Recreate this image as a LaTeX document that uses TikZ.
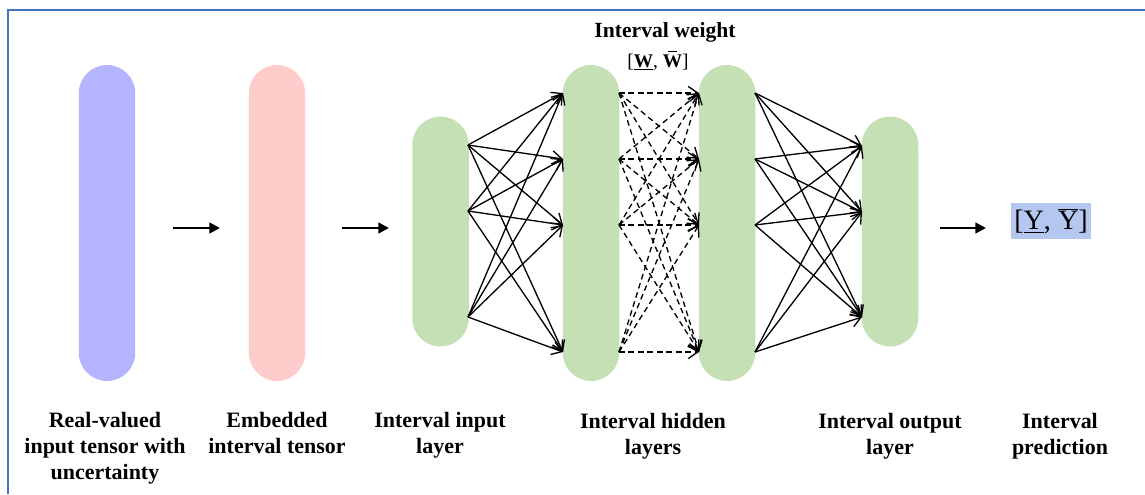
\documentclass[tikz,border=0pt]{standalone}
\usepackage{fontspec}
\setmainfont{Liberation Serif}
\usetikzlibrary{arrows.meta}
\definecolor{pblue}{RGB}{181,181,255}
\definecolor{ppink}{RGB}{255,204,204}
\definecolor{pgreen}{RGB}{197,224,180}
\definecolor{boxblue}{RGB}{180,199,240}
\definecolor{frameblue}{RGB}{68,114,196}
\begin{document}
\begin{tikzpicture}[x=0.02cm,y=-0.02cm,
  pill/.style={draw=none,rectangle,rounded corners=0.565cm,minimum width=1.13cm,inner sep=0pt},
  conn/.style={line width=0.75pt,-{Straight Barb[length=5.5pt,width=7.5pt]}},
  dconn/.style={conn,dash pattern=on 3.2pt off 2.2pt},
  bigarrow/.style={line width=1.3pt,-{Triangle[length=6pt,width=6pt]}},
  lab/.style={font=\bfseries\fontsize{12.5}{14.8}\selectfont,align=center,anchor=north,inner sep=0pt}]
\useasboundingbox (0,0) rectangle (1145,494);
\draw[frameblue,line width=1.2pt] (8,494) -- (8,10) -- (1145,10);

% pills
\node[pill,fill=pblue,minimum height=6.32cm] (p1) at (107,223) {};
\node[pill,fill=ppink,minimum height=6.32cm] (p2) at (277,223) {};
\node[pill,fill=pgreen,minimum height=4.6cm] (pin) at (440.5,231.5) {};
\node[pill,fill=pgreen,minimum height=6.32cm] (ph1) at (591,223) {};
\node[pill,fill=pgreen,minimum height=6.32cm] (ph2) at (727,223) {};
\node[pill,fill=pgreen,minimum height=4.6cm] (pout) at (890,231.5) {};

% neuron points
\coordinate (i1) at (468,145); \coordinate (i2) at (468,211); \coordinate (i3) at (468,317);
\foreach \k/\y in {1/93,2/159,3/225,4/352}{
  \coordinate (hl\k) at (563,\y);
  \coordinate (hr\k) at (619,\y);
  \coordinate (gl\k) at (699,\y);
  \coordinate (gr\k) at (755,\y);
}
\coordinate (o1) at (862,146); \coordinate (o2) at (862,212); \coordinate (o3) at (862,317);

\foreach \a in {1,2,3}{\foreach \b in {1,2,3,4}{\draw[conn] (i\a) -- (hl\b);}}
\foreach \a in {1,2,3,4}{\foreach \b in {1,2,3,4}{\draw[dconn] (hr\a) -- (gl\b);}}
\foreach \a in {1,2,3,4}{\foreach \b in {1,2,3}{\draw[conn] (gr\a) -- (o\b);}}

% short arrows
\coordinate (a1s) at (173,228); \coordinate (a1e) at (220,228);
\coordinate (a2s) at (342,228); \coordinate (a2e) at (389,228);
\coordinate (a3s) at (940,228); \coordinate (a3e) at (986,228);
\draw[bigarrow] (a1s) -- (a1e);
\draw[bigarrow] (a2s) -- (a2e);
\draw[bigarrow] (a3s) -- (a3e);

% prediction
\node[fill=boxblue,inner xsep=2pt,inner ysep=3pt,font=\fontsize{16}{18}\selectfont] (pred) at (1051,221)
  {[\underline{Y}, $\overline{\mbox{Y}}$]};

% top labels
\node[font=\bfseries\fontsize{12.3}{14}\selectfont,inner sep=0pt] (wlab) at (665,32) {Interval weight};
\node[font=\fontsize{11}{13}\selectfont,inner sep=0pt] (wint) at (658,61)
  {[\underline{\textbf{W}}, \textbf{\ooalign{\hfil\rule[8.6pt]{5pt}{0.5pt}\hfil\cr W}}]};

% bottom labels
\node[lab] (l1) at (105,412) {Real-valued\\input tensor with\\uncertainty};
\node[lab] (l2) at (277,412) {Embedded\\interval tensor};
\node[lab] (l3) at (440,412) {Interval input\\layer};
\node[lab] (l4) at (653,413) {Interval hidden\\layers};
\node[lab] (l5) at (890,413) {Interval output\\layer};
\node[lab] (l6) at (1060,413) {Interval\\prediction};
\end{tikzpicture}
\end{document}
